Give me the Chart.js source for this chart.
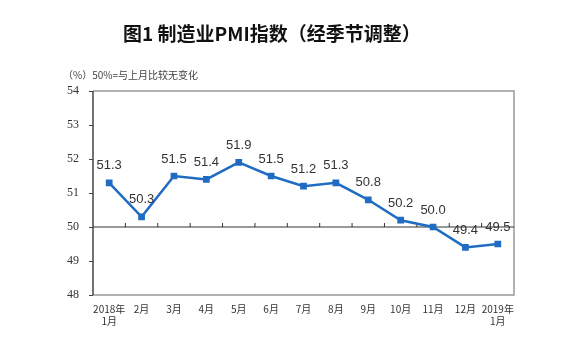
<!DOCTYPE html>
<html><head><meta charset="utf-8">
<script src="https://cdn.jsdelivr.net/npm/chart.js@4"></script>
<style>
html,body{margin:0;padding:0;background:#fff}
#wrap{position:relative;width:571px;height:343px}
#title{position:absolute;left:123px;top:22px;height:22px;line-height:22px;font-family:"Noto Sans CJK SC",sans-serif;font-size:19px;font-weight:bold;color:#111;white-space:nowrap}
</style>
</head><body><div id="wrap"><div id="title"></div><canvas id="c"></canvas></div>
<script>
const categories = [["2018年","1月"],"2月","3月","4月","5月","6月","7月","8月","9月","10月","11月","12月",["2019年","1月"]];
const pmiValues = [51.3,50.3,51.5,51.4,51.9,51.5,51.2,51.3,50.8,50.2,50.0,49.4,49.5];
const titleText = "图1 制造业PMI指数（经季节调整）";
const subtitleText = "（%）50%=与上月比较无变化";
const yMin = 48, yMax = 54, baseline = 50;

document.getElementById('title').textContent = titleText;

const framePlugin = {
  id: 'frame',
  beforeDatasetsDraw(chart) {
    const {ctx, chartArea: a, scales} = chart;
    ctx.save();
    ctx.lineWidth = 1.5;
    ctx.strokeStyle = '#999';
    ctx.beginPath();
    ctx.moveTo(a.left, a.top); ctx.lineTo(a.right, a.top); ctx.lineTo(a.right, a.bottom); ctx.lineTo(a.left, a.bottom);
    ctx.stroke();
    ctx.strokeStyle = '#444';
    ctx.beginPath(); ctx.moveTo(a.left, a.top); ctx.lineTo(a.left, a.bottom); ctx.stroke();
    const y50 = scales.y.getPixelForValue(baseline);
    ctx.lineWidth = 1;
    ctx.strokeStyle = '#333';
    ctx.beginPath(); ctx.moveTo(a.left, y50); ctx.lineTo(a.right, y50); ctx.stroke();
    const x = scales.x;
    const n = categories.length;
    ctx.beginPath();
    for (let i = 1; i < n; i++) {
      const px = (x.getPixelForValue(i - 1) + x.getPixelForValue(i)) / 2;
      ctx.moveTo(px, y50); ctx.lineTo(px, y50 - 4);
    }
    ctx.stroke();
    ctx.restore();
  },
  afterDatasetsDraw(chart) {
    const {ctx} = chart;
    const meta = chart.getDatasetMeta(0);
    ctx.save();
    ctx.font = '13px "Liberation Sans", Arial, sans-serif';
    ctx.fillStyle = '#333';
    ctx.textAlign = 'center';
    ctx.textBaseline = 'middle';
    meta.data.forEach((pt, i) => {
      ctx.fillText(pmiValues[i].toFixed(1), pt.x, pt.y - 17);
    });
    ctx.restore();
  }
};

new Chart(document.getElementById('c'), {
  type: 'line',
  data: {
    labels: categories,
    datasets: [{
      data: pmiValues,
      borderColor: '#1f6cc2',
      backgroundColor: '#1f6cc2',
      borderWidth: 2.5,
      pointStyle: 'rect',
      pointRadius: 3,
      tension: 0
    }]
  },
  options: {
    responsive: true,
    maintainAspectRatio: false,
    animation: false,
    layout: {padding: {left: 63, right: 57, top: 0, bottom: 0}},
    plugins: {
      legend: {display: false},
      tooltip: {enabled: false},
      title: {display: false},
      subtitle: {
        display: true, text: subtitleText, align: 'start',
        color: '#444',
        font: {family: '"Noto Sans CJK SC", sans-serif', size: 10},
        padding: {top: 69, bottom: 10}
      }
    },
    scales: {
      x: {
        offset: true,
        afterFit(s) { s.height = 48; },
        grid: {display: false, drawTicks: false},
        border: {display: false},
        ticks: {color: '#333', font: {family: '"Noto Sans CJK SC", sans-serif', size: 10}, padding: 8, maxRotation: 0, autoSkip: false}
      },
      y: {
        min: yMin, max: yMax,
        afterFit(s) { s.width = 30; },
        grid: {drawOnChartArea: false, tickLength: 4, color: '#444'},
        border: {display: false},
        ticks: {stepSize: 1, color: '#333', font: {family: '"Liberation Serif", serif', size: 12}, padding: 10}
      }
    }
  },
  plugins: [framePlugin]
});
</script>
</body></html>
